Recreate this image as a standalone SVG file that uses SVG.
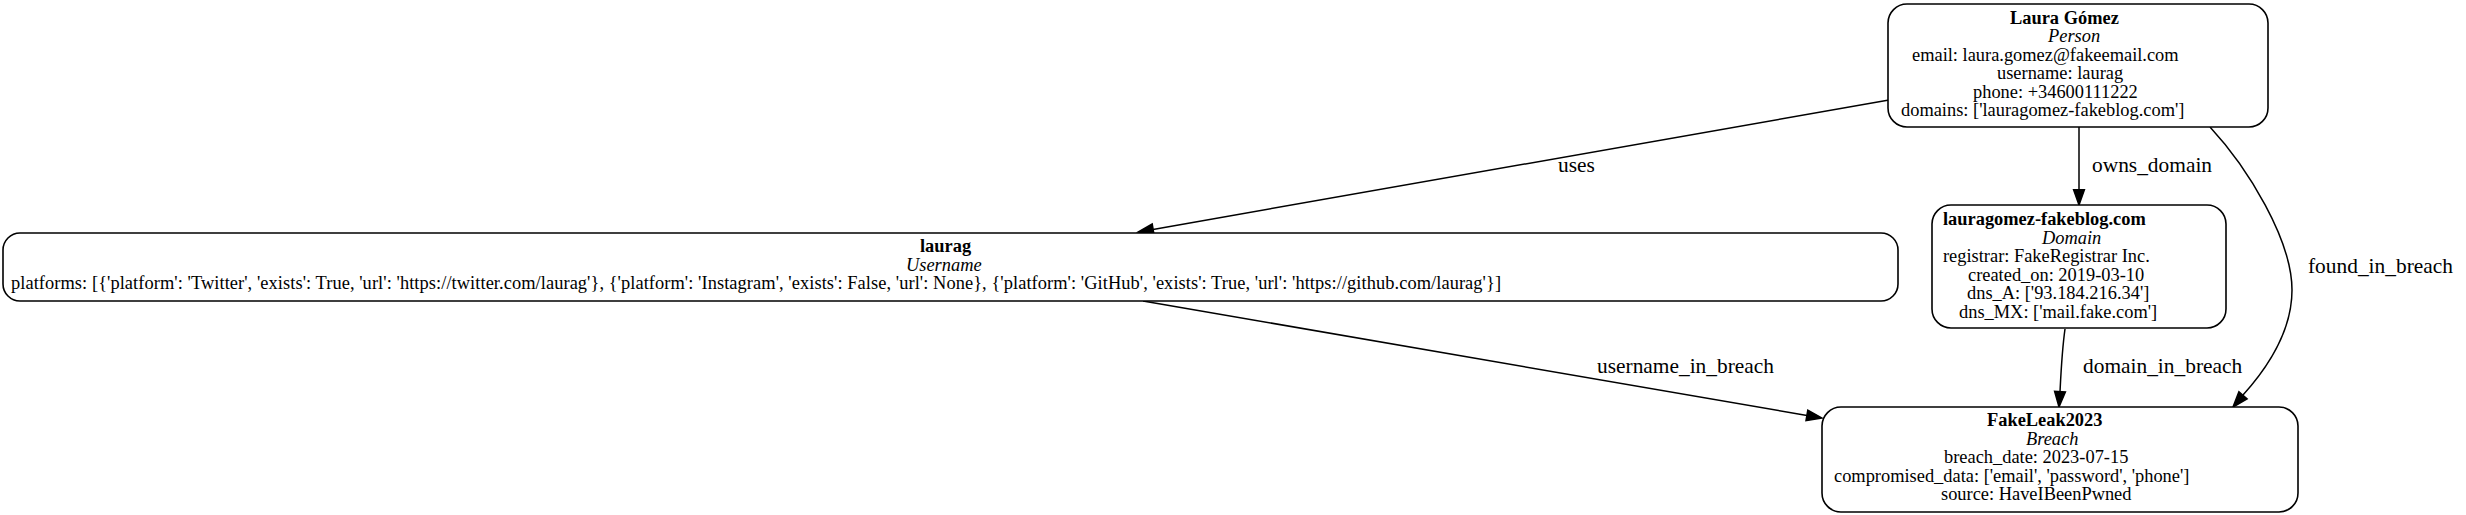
<svg xmlns="http://www.w3.org/2000/svg" width="2466" height="515" viewBox="0 0 2466 515">
<style>
.box{fill:#fff;stroke:#000;stroke-width:1.6}
.n{font-family:"Liberation Serif","Times New Roman",serif;font-size:18.4px;fill:#000}
.b{font-weight:bold}
.i{font-style:italic}
.e{fill:none;stroke:#000;stroke-width:1.5}
.ah{fill:#000;stroke:#000;stroke-width:1.5}
.el{font-family:"Liberation Serif","Times New Roman",serif;font-size:21.4px;fill:#000}
</style>
<rect width="2466" height="515" fill="#fff"/>
<g id="connectors">
<path class="e" d="M1889,100 L1153,229.4"/>
<polygon class="ah" points="1138,232 1154,234.7 1152.2,224"/>
<text class="el" x="1558" y="172">uses</text>
<path class="e" d="M1143,301 L1807,415.4"/>
<polygon class="ah" points="1822,418 1806,420.7 1807.8,410.1"/>
<text class="el" x="1597" y="373">username_in_breach</text>
<path class="e" d="M2079,127 L2079,190"/>
<polygon class="ah" points="2079,205 2084.4,189.7 2073.6,189.7"/>
<text class="el" x="2092" y="172">owns_domain</text>
<path class="e" d="M2065,329 C2062,350 2061,372 2060,392"/>
<polygon class="ah" points="2059,407 2065.4,392 2054.6,391.4"/>
<text class="el" x="2083" y="373">domain_in_breach</text>
<path class="e" d="M2210,127 C2248,168 2292,240 2292,290 C2292,330 2270,365 2243,395"/>
<polygon class="ah" points="2233,407 2247.1,398.8 2238.9,391.8"/>
<text class="el" x="2308" y="273">found_in_breach</text>
</g>
<g id="laura_gomez">
<rect class="box" x="1888" y="4" width="380" height="123" rx="19" ry="19"/>
<text class="n b" x="2010" y="23.5">Laura Gómez</text>
<text class="n i" x="2048" y="42">Person</text>
<text class="n" x="1912" y="60.5">email: laura.gomez@fakeemail.com</text>
<text class="n" x="1997" y="79">username: laurag</text>
<text class="n" x="1973" y="97.5">phone: +34600111222</text>
<text class="n" x="1901" y="116">domains: ['lauragomez-fakeblog.com']</text>
</g>
<g id="laurag">
<rect class="box" x="3" y="233" width="1895" height="68" rx="17" ry="17"/>
<text class="n b" x="920" y="252">laurag</text>
<text class="n i" x="906" y="270.5">Username</text>
<text class="n" x="11" y="289" textLength="1490" lengthAdjust="spacing">platforms: [{'platform': 'Twitter', 'exists': True, 'url': 'https://twitter.com/laurag'}, {'platform': 'Instagram', 'exists': False, 'url': None}, {'platform': 'GitHub', 'exists': True, 'url': 'https://github.com/laurag'}]</text>
</g>
<g id="domain">
<rect class="box" x="1932" y="205" width="294" height="123" rx="19" ry="19"/>
<text class="n b" x="1943" y="225">lauragomez-fakeblog.com</text>
<text class="n i" x="2042" y="243.5">Domain</text>
<text class="n" x="1943" y="262">registrar: FakeRegistrar Inc.</text>
<text class="n" x="1968" y="280.5">created_on: 2019-03-10</text>
<text class="n" x="1967" y="299">dns_A: ['93.184.216.34']</text>
<text class="n" x="1959" y="317.5">dns_MX: ['mail.fake.com']</text>
</g>
<g id="fakeleak2023">
<rect class="box" x="1822" y="407" width="476" height="105" rx="19" ry="19"/>
<text class="n b" x="1987" y="426">FakeLeak2023</text>
<text class="n i" x="2026" y="444.5">Breach</text>
<text class="n" x="1944" y="463">breach_date: 2023-07-15</text>
<text class="n" x="1834" y="481.5">compromised_data: ['email', 'password', 'phone']</text>
<text class="n" x="1941" y="500">source: HaveIBeenPwned</text>
</g>
</svg>
